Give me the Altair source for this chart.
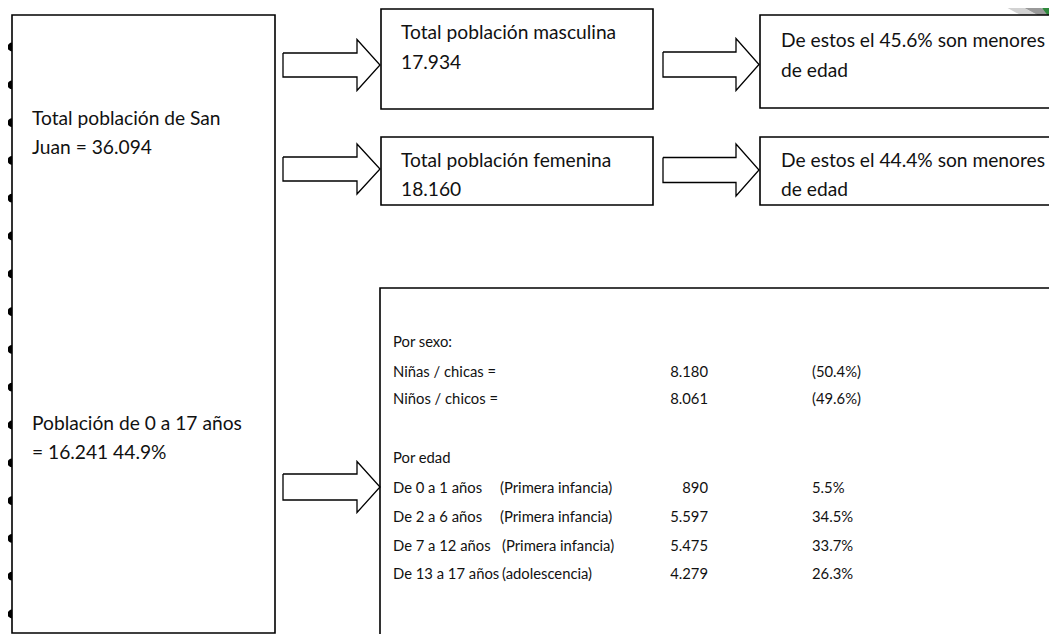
import altair as alt
import pandas as pd

# ---------------- content ----------------
left_top = ["Total población de San", "Juan = 36.094"]
left_bottom = ["Población de 0 a 17 años", "= 16.241 44.9%"]
male = ["Total población masculina", "17.934"]
female = ["Total población femenina", "18.160"]
male_minor = ["De estos el 45.6% son menores", "de edad"]
female_minor = ["De estos el 44.4% son menores", "de edad"]
sex_header = "Por sexo:"
sex_labels = ["Niñas / chicas =", "Niños / chicos ="]
sex_values = ["8.180", "8.061"]
sex_pcts = ["(50.4%)", "(49.6%)"]
age_header = "Por edad"
age_labels = ["De 0 a 1 años", "De 2 a 6 años", "De 7 a 12 años", "De 13 a 17 años"]
age_groups = ["(Primera infancia)", "(Primera infancia)", "(Primera infancia)", "(adolescencia)"]
age_values = ["890", "5.597", "5.475", "4.279"]
age_pcts = ["5.5%", "34.5%", "33.7%", "26.3%"]

# ---------------- layout (reference pixel coordinates) ----------------
W, H = 1041, 626
OX, OY = 8, 8
FONT = "Lato"
FS_BIG = 19.2
FS_SMALL = 14.8

boxes = pd.DataFrame([
    dict(id="left", x=12, x2=275, y=15, y2=633),
    dict(id="male", x=381, x2=653, y=9, y2=109),
    dict(id="male_minor", x=760, x2=1075, y=15, y2=108),
    dict(id="female", x=381, x2=653, y=137, y2=205),
    dict(id="female_minor", x=760, x2=1075, y=137, y2=205),
    dict(id="detail", x=380, x2=1075, y=288, y2=660),
])

dot_y = [47 + i * 37.8 for i in range(16)]
dots = pd.DataFrame({"x": [12] * len(dot_y), "y": dot_y})

def arrow(name, x0, xh, xt, cy, h, hh):
    pts = [(x0, cy - h), (xh, cy - h), (xh, cy - hh), (xt, cy),
           (xh, cy + hh), (xh, cy + h), (x0, cy + h), (x0, cy - h)]
    return [dict(a=name, i=i, x=p[0], y=p[1]) for i, p in enumerate(pts)]

arrows = pd.DataFrame(
    arrow("a1", 283, 357, 380, 65, 12, 25.5)
    + arrow("a2", 283, 357, 380, 169, 12, 25)
    + arrow("a3", 283, 357, 380, 487, 13, 25.5)
    + arrow("a4", 663, 736, 759, 64.5, 12.5, 26)
    + arrow("a5", 663, 736, 759, 170, 12.5, 26)
)

rows = []
def add(t, x, y, align="left", grp="top"):
    rows.append(dict(t=t, x=x, y=y, align=align, grp=grp))

add(left_top[0], 32, 125); add(left_top[1], 32, 154)
add(left_bottom[0], 32, 430); add(left_bottom[1], 32, 459)
add(male[0], 401, 39); add(male[1], 401, 69)
add(male_minor[0], 781, 47); add(male_minor[1], 781, 77)
add(female[0], 401, 167); add(female[1], 401, 196)
add(female_minor[0], 781, 167); add(female_minor[1], 781, 196)
add(sex_header, 393, 347, grp="tab")
for k, yb in enumerate([377, 404]):
    add(sex_labels[k], 393, yb, grp="tab")
    add(sex_values[k], 708, yb, "right", "tab")
    add(sex_pcts[k], 812, yb, grp="tab")
add(age_header, 393, 463, grp="tab")
gx = [500, 500, 502, 502]
for k, yb in enumerate([493, 522, 551, 579]):
    add(age_labels[k], 393, yb, grp="tab")
    add(age_groups[k], gx[k], yb, grp="tab")
    add(age_values[k], 708, yb, "right", "tab")
    add(age_pcts[k], 812, yb, grp="tab")
texts = pd.DataFrame(rows)

# corner logo fragment: diagonal bands
logo = pd.DataFrame([
    dict(x=992, y=-5, x2=1038, y2=20, sw=8, c="light"),
    dict(x=1009, y=-5, x2=1055, y2=20, sw=8, c="dark"),
    dict(x=1051, y=-5, x2=1074, y2=25, sw=30, c="green"),
])

# ---------------- scales ----------------
xs = alt.Scale(domain=[OX, OX + W], nice=False, zero=False)
ys = alt.Scale(domain=[OY, OY + H], nice=False, zero=False, reverse=True)
X = lambda f: alt.X(f, type="quantitative", scale=xs, axis=None)
Y = lambda f: alt.Y(f, type="quantitative", scale=ys, axis=None)

logo_layers = []
for c, col in [("light", "#d2d2d2"), ("dark", "#999999"), ("green", "#2f8a3c")]:
    sub = logo[logo["c"] == c]
    logo_layers.append(
        alt.Chart(sub).mark_rule(color=col, strokeWidth=float(sub["sw"].iloc[0]),
                                 strokeCap="butt").encode(
            x=X("x"), x2="x2", y=Y("y"), y2="y2")
    )

dot_layer = alt.Chart(dots).mark_circle(size=78, color="black", opacity=1).encode(
    x=X("x"), y=Y("y"))

box_layer = alt.Chart(boxes).mark_rect(
    fill="white", stroke="black", strokeWidth=1.6, clip=True
).encode(x=X("x"), x2="x2", y=Y("y"), y2="y2")

arrow_layer = alt.Chart(arrows).mark_line(
    color="black", strokeWidth=1.3, strokeJoin="miter"
).encode(x=X("x"), y=Y("y"), detail="a:N", order="i:Q")

text_layers = []
for al in ["left", "right"]:
    for grp, fs in [("top", FS_BIG), ("tab", FS_SMALL)]:
        sub = texts[(texts["align"] == al) & (texts["grp"] == grp)]
        if len(sub) == 0:
            continue
        text_layers.append(
            alt.Chart(sub).mark_text(
                align=al, baseline="alphabetic", font=FONT, fontSize=fs, color="#111111"
            ).encode(x=X("x"), y=Y("y"), text="t:N")
        )

chart = alt.layer(
    *logo_layers, dot_layer, box_layer, arrow_layer, *text_layers
).properties(
    width=W, height=H, padding=0,
    autosize=alt.AutoSizeParams(type="none"),
).configure_view(stroke=None)

chart.save("out.html", embed_options={"renderer": "svg", "actions": False})
